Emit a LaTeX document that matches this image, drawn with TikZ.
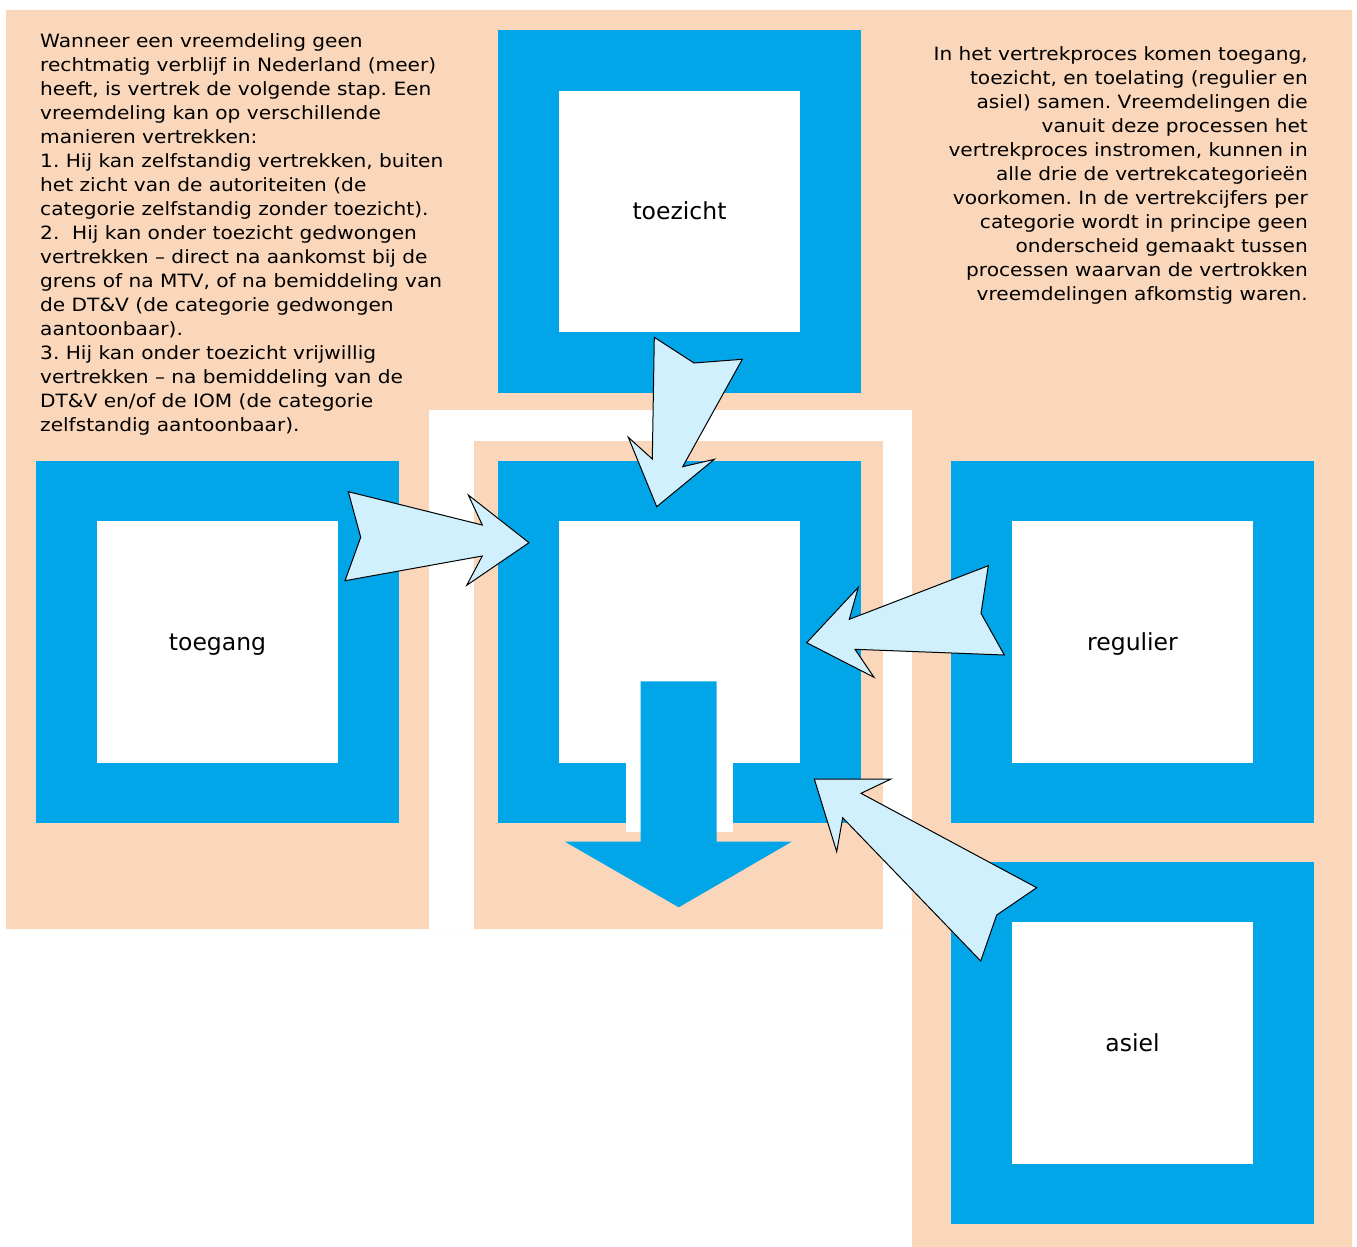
\documentclass[tikz,border=0pt]{standalone}
\usepackage{fontspec}
\setmainfont{DejaVu Sans}
\newfontfamily\breed[FakeStretch=1.1]{DejaVu Sans}
\usetikzlibrary{positioning}

\definecolor{peach}{HTML}{FAD7BB}
\definecolor{boxblue}{HTML}{00A6E8}
\definecolor{pale}{HTML}{D1F0FD}

\tikzset{
  frame/.style={draw=boxblue, line width=60.5pt, fill=white, minimum size=302pt,
    inner sep=0pt, text height=18pt, text depth=2pt, font=\fontsize{23.5}{28}\selectfont},
  inflow/.style={fill=pale, draw=black, line width=1pt, line join=miter},
  uitleg/.style={inner sep=0pt, font=\breed\fontsize{18.3}{24}\selectfont\frenchspacing}
}

\begin{document}
\begin{tikzpicture}[x=1pt, y=-1pt]
\useasboundingbox (0,0) rectangle (1357,1247);

% achtergrond
\fill[peach] (6,10) -- (1352,10) -- (1352,1247) -- (912,1247) -- (912,929) -- (6,929) -- cycle;
\fill[white] (429,410) rectangle (912,929);
\fill[peach] (474,441) rectangle (883,929);

% blokken
\node[frame] (toezicht) at (679.5,211.5) {toezicht};
\node[frame] (vertrek) at (679.5,642) {};
\node[frame] (toegang) at (217.5,642) {toegang};
\node[frame] (regulier) at (1132.5,642) {regulier};
\node[frame] (asiel) at (1132.5,1043) {asiel};

% uitstroom
\fill[white] (626,681) rectangle (733,832);
\fill[boxblue] (640.7,681.3) -- (716.7,681.3) -- (716.7,841.7) -- (791.7,841.7)
  -- (678.7,907.3) -- (565,841.7) -- (640.7,841.7) -- cycle;

% instroom
\draw[inflow] (348.3,491.7) -- (482.3,525) -- (468.3,495) -- (529,542.7) -- (466.7,585.3)
  -- (482.3,556) -- (345,580.7) -- (360.7,537.3) -- cycle;
\draw[inflow] (654.3,337.3) -- (694,363) -- (742.3,359.3) -- (682.7,466.7) -- (714.3,459.3)
  -- (656.7,506.7) -- (628.3,437.3) -- (652.3,459) -- cycle;
\draw[inflow] (988.3,565.7) -- (981,613.3) -- (1004.3,655) -- (855,649.3) -- (874,677.3)
  -- (806.7,642.7) -- (858.3,587.3) -- (849.3,619.3) -- cycle;
\draw[inflow] (814.3,779) -- (891,779) -- (861,793.3) -- (1036.7,887.7) -- (996.7,915)
  -- (980.7,961) -- (842.7,817.7) -- (836.7,851.7) -- cycle;

% teksten
\node[uitleg, anchor=north west, align=left] (links) at (40,33) {Wanneer een vreemdeling geen\\
rechtmatig verblijf in Nederland (meer)\\
heeft, is vertrek de volgende stap. Een\\
vreemdeling kan op verschillende\\
manieren vertrekken:\\
1. Hij kan zelfstandig vertrekken, buiten\\
het zicht van de autoriteiten (de\\
categorie zelfstandig zonder toezicht).\\
2.\ \ Hij kan onder toezicht gedwongen\\
vertrekken – direct na aankomst bij de\\
grens of na MTV, of na bemiddeling van\\
de DT\&V (de categorie gedwongen\\
aantoonbaar).\\
3. Hij kan onder toezicht vrijwillig\\
vertrekken – na bemiddeling van de\\
DT\&V en/of de IOM (de categorie\\
zelfstandig aantoonbaar).};

\node[uitleg, anchor=north east, align=right] (rechts) at (1308,46) {In het vertrekproces komen toegang,\\
toezicht, en toelating (regulier en\\
asiel) samen. Vreemdelingen die\\
vanuit deze processen het\\
vertrekproces instromen, kunnen in\\
alle drie de vertrekcategorieën\\
voorkomen. In de vertrekcijfers per\\
categorie wordt in principe geen\\
onderscheid gemaakt tussen\\
processen waarvan de vertrokken\\
vreemdelingen afkomstig waren.};

\end{tikzpicture}
\end{document}
